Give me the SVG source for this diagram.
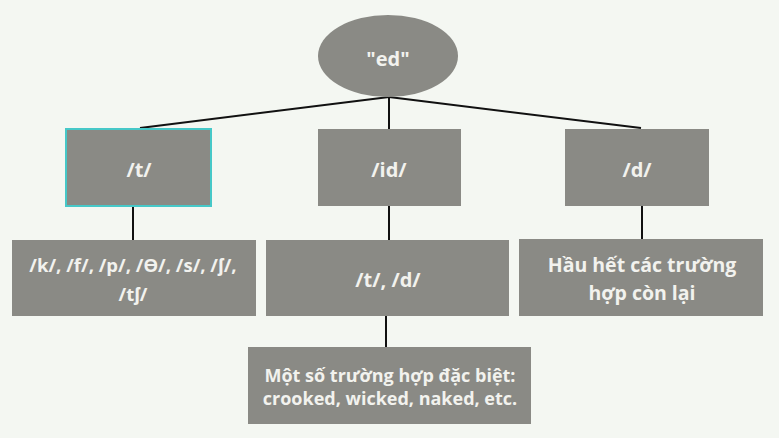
<svg xmlns="http://www.w3.org/2000/svg" width="779" height="438" viewBox="0 0 779 438">
<style>
.box{fill:#8a8a85;}
.t{font-family:"Open Sans","Noto Sans",sans-serif;font-weight:bold;fill:#f2f2ee;text-anchor:middle;}
.s20{font-size:20px;}
.ln{stroke:#111;stroke-width:2;fill:none;}
</style>
<rect width="779" height="438" fill="#f4f7f2"/>
<g id="connectors">
<line class="ln" x1="389" y1="97" x2="140" y2="128"/>
<line class="ln" x1="389" y1="97" x2="389" y2="129"/>
<line class="ln" x1="389" y1="97" x2="641" y2="128"/>
<line class="ln" x1="133" y1="206" x2="133" y2="240"/>
<line class="ln" x1="389" y1="206" x2="389" y2="240"/>
<line class="ln" x1="642" y1="206" x2="642" y2="239"/>
<line class="ln" x1="386" y1="316" x2="386" y2="347"/>
</g>
<g id="node-ed">
<ellipse class="box" cx="388" cy="56" rx="70" ry="41"/>
<text class="t s20" x="388" y="66">"ed"</text>
</g>
<g id="node-t">
<rect class="box" x="66" y="129" width="145" height="77" stroke="#46c8c8" stroke-width="2"/>
<text class="t s20" x="139" y="177">/t/</text>
</g>
<g id="node-id">
<rect class="box" x="318" y="129" width="143" height="77"/>
<text class="t s20" x="389" y="177">/id/</text>
</g>
<g id="node-d">
<rect class="box" x="565" y="129" width="144" height="77"/>
<text class="t s20" x="637" y="177">/d/</text>
</g>
<g id="node-k">
<rect class="box" x="12" y="240" width="244" height="76"/>
<text class="t" font-size="18.5" x="133" y="272">/k/, /f/, /p/, /ϴ/, /s/, /ʃ/,</text>
<text class="t" font-size="18.5" x="133" y="301">/tʃ/</text>
</g>
<g id="node-td">
<rect class="box" x="266" y="240" width="243" height="76"/>
<text class="t s20" x="388" y="287">/t/, /d/</text>
</g>
<g id="node-hau">
<rect class="box" x="519" y="239" width="244" height="77"/>
<text class="t" font-size="19.5" x="642" y="272">Hầu hết các trường</text>
<text class="t" font-size="19.5" x="642" y="300">hợp còn lại</text>
</g>
<g id="node-mot">
<rect class="box" x="248" y="347" width="283" height="77"/>
<text class="t" font-size="18" x="390" y="382">Một số trường hợp đặc biệt:</text>
<text class="t" font-size="18" x="390" y="405">crooked, wicked, naked, etc.</text>
</g>
</svg>
